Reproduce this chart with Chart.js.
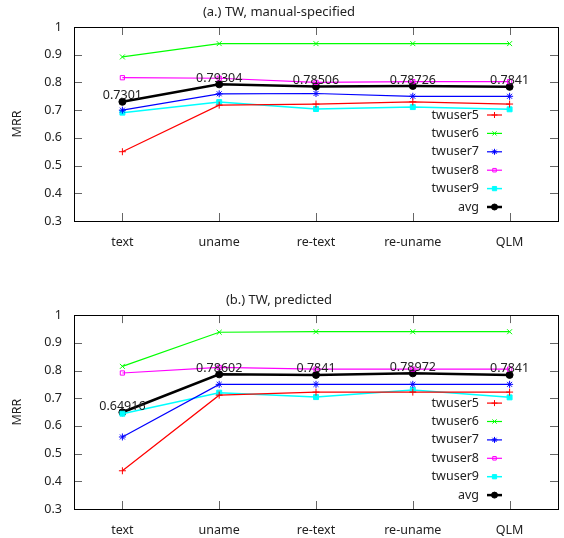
<!DOCTYPE html>
<html>
<head>
<meta charset="utf-8">
<script src="https://cdn.jsdelivr.net/npm/chart.js@4"></script>
<style>
  body { margin: 0; width: 564px; height: 538px; overflow: hidden; background: #fff; }
  .box { position: absolute; left: 0; width: 564px; }
</style>
</head>
<body>
<div class="box" style="top:0;height:270px"><canvas id="chartA"></canvas></div>
<div class="box" style="top:270px;height:288px"><canvas id="chartB"></canvas></div>
<script>
const categories = ['text', 'uname', 're-text', 're-uname', 'QLM'];
const seriesNames = ['twuser5', 'twuser6', 'twuser7', 'twuser8', 'twuser9', 'avg'];
const yTicks = [0.3, 0.4, 0.5, 0.6, 0.7, 0.8, 0.9, 1];

// (a.) manual-specified
const manual5 = [0.55, 0.718, 0.722, 0.73, 0.722];
const manual6 = [0.892, 0.94, 0.94, 0.94, 0.94];
const manual7 = [0.70, 0.759, 0.76, 0.75, 0.75];
const manual8 = [0.817, 0.815, 0.80, 0.803, 0.803];
const manual9 = [0.691, 0.729, 0.704, 0.711, 0.703];
const manualAvg = [0.7301, 0.79304, 0.78506, 0.78726, 0.7841];

// (b.) predicted
const pred5 = [0.438, 0.711, 0.722, 0.722, 0.722];
const pred6 = [0.815, 0.938, 0.94, 0.94, 0.94];
const pred7 = [0.56, 0.75, 0.75, 0.75, 0.75];
const pred8 = [0.791, 0.811, 0.805, 0.805, 0.805];
const pred9 = [0.644, 0.72, 0.704, 0.73, 0.703];
const predAvg = [0.64916, 0.78602, 0.7841, 0.78972, 0.7841];

const FONT = "'Noto Sans', sans-serif";
const TXT = '#222';

const styles = [
  { color: '#ff0000', point: 'cross', fill: '#ff0000', width: 1.2, radius: 3.5 },
  { color: '#00ff00', point: 'crossRot', fill: '#00ff00', width: 1.2, radius: 3.5 },
  { color: '#0000ff', point: 'star', fill: '#0000ff', width: 1.2, radius: 3.5 },
  { color: '#ff00ff', point: 'rect', fill: 'rgba(0,0,0,0)', width: 1.2, radius: 3 },
  { color: '#00ffff', point: 'rect', fill: '#00ffff', width: 1.5, radius: 3.5 },
  { color: '#000000', point: 'circle', fill: '#000000', width: 2.5, radius: 3.5 }
];

function makeDatasets(list) {
  return list.map((vals, i) => ({
    label: seriesNames[i],
    data: vals,
    borderColor: styles[i].color,
    backgroundColor: styles[i].fill,
    borderWidth: styles[i].width,
    pointStyle: styles[i].point,
    pointRadius: styles[i].radius,
    pointBorderColor: styles[i].color,
    pointBorderWidth: 1,
    tension: 0
  }));
}

// gnuplot-style frame, inward ticks, avg labels and legend inside the plot
const gnuplotLook = {
  id: 'gnuplotLook',
  afterDatasetsDraw(chart) {
    const { ctx, chartArea: a, scales } = chart;
    ctx.save();
    ctx.strokeStyle = '#666';
    ctx.lineWidth = 1;
    const tl = 8;
    yTicks.forEach(v => {
      const y = Math.round(scales.y.getPixelForValue(v)) + 0.5;
      ctx.beginPath();
      ctx.moveTo(a.left, y); ctx.lineTo(a.left + tl, y);
      ctx.moveTo(a.right, y); ctx.lineTo(a.right - tl, y);
      ctx.stroke();
    });
    categories.forEach((c, i) => {
      const x = Math.round(scales.x.getPixelForValue(i)) + 0.5;
      ctx.beginPath();
      ctx.moveTo(x, a.top); ctx.lineTo(x, a.top + tl);
      ctx.moveTo(x, a.bottom); ctx.lineTo(x, a.bottom - tl);
      ctx.stroke();
    });
    ctx.strokeStyle = '#000';
    ctx.strokeRect(Math.round(a.left) + 0.5, Math.round(a.top) + 0.5,
      Math.round(a.right - a.left), Math.round(a.bottom - a.top));

    // avg value labels
    const avgIdx = chart.data.datasets.length - 1;
    const meta = chart.getDatasetMeta(avgIdx);
    ctx.font = '12.5px ' + FONT;
    ctx.fillStyle = TXT;
    ctx.textAlign = 'center';
    ctx.textBaseline = 'middle';
    meta.data.forEach((pt, i) => {
      ctx.fillText(String(chart.data.datasets[avgIdx].data[i]), pt.x, pt.y - 6);
    });

    // legend
    const xr = 479, x0 = 487, x1 = 502;
    chart.data.datasets.forEach((ds, i) => {
      const y = a.top + 88 + i * 18.4;
      ctx.fillStyle = TXT;
      ctx.textAlign = 'right';
      ctx.fillText(ds.label, xr, y);
      ctx.strokeStyle = ds.borderColor;
      ctx.lineWidth = ds.borderWidth;
      ctx.beginPath();
      ctx.moveTo(x0, y); ctx.lineTo(x1, y);
      ctx.stroke();
      ctx.fillStyle = ds.backgroundColor;
      ctx.lineWidth = 1;
      Chart.helpers.drawPoint(ctx, {
        pointStyle: ds.pointStyle, radius: ds.pointRadius - 0.5, borderWidth: 1, rotation: 0
      }, (x0 + x1) / 2, y);
    });
    ctx.restore();
  }
};

function makeChart(id, title, titlePad, list) {
  return new Chart(document.getElementById(id), {
    type: 'line',
    data: { labels: categories, datasets: makeDatasets(list) },
    plugins: [gnuplotLook],
    options: {
      responsive: true,
      maintainAspectRatio: false,
      animation: false,
      layout: { padding: { left: 0, right: 6, top: 0, bottom: 0 } },
      plugins: {
        legend: { display: false },
        tooltip: { enabled: false },
        title: {
          display: true,
          text: title,
          color: TXT,
          font: { family: FONT, size: 13, weight: 'normal' },
          padding: titlePad
        }
      },
      scales: {
        x: {
          type: 'category',
          offset: true,
          grid: { display: false, drawTicks: false },
          border: { display: false },
          ticks: { color: TXT, padding: 14, font: { family: FONT, size: 12.5 }, maxRotation: 0 },
          afterFit: s => { s.height = 49; }
        },
        y: {
          min: 0.3,
          max: 1,
          grid: { display: false, drawTicks: false },
          border: { display: false },
          afterBuildTicks: s => { s.ticks = yTicks.map(v => ({ value: v })); },
          ticks: {
            color: TXT, padding: 12, font: { family: FONT, size: 12.5 },
            callback: v => String(Math.round(v * 10) / 10)
          },
          title: {
            display: true, text: 'MRR', color: TXT,
            font: { family: FONT, size: 12.5 }, padding: { top: 9.5, bottom: 0 }
          },
          afterFit: s => { s.width = 74; }
        }
      }
    }
  });
}

makeChart('chartA', '(a.) TW, manual-specified', { top: 4, bottom: 7.4 },
  [manual5, manual6, manual7, manual8, manual9, manualAvg]);
makeChart('chartB', '(b.) TW, predicted', { top: 22.5, bottom: 7 },
  [pred5, pred6, pred7, pred8, pred9, predAvg]);
</script>
</body>
</html>
